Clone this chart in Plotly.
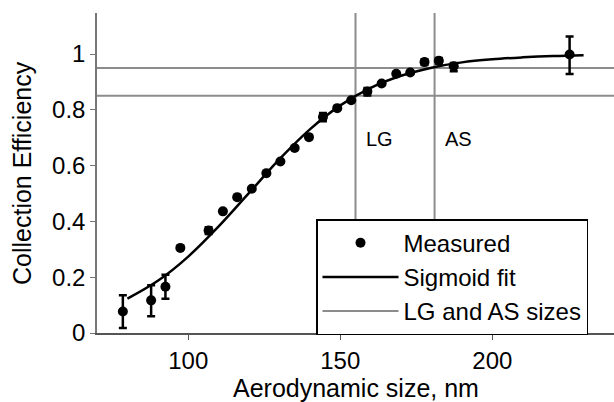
import plotly.graph_objects as go

# Measured data
size_nm = [78.5, 87.8, 92.5, 97.4, 106.7, 111.4, 116.1, 120.9, 125.7, 130.3, 135.0,
           139.7, 144.3, 149.0, 153.6, 158.9, 163.6, 168.4, 173.0, 177.7, 182.4, 187.3, 225.4]
efficiency = [0.077, 0.117, 0.166, 0.305, 0.367, 0.436, 0.487, 0.517, 0.573, 0.615, 0.663,
              0.702, 0.774, 0.806, 0.834, 0.866, 0.894, 0.929, 0.934, 0.971, 0.976, 0.956, 0.998]
err_plus = [0.058, 0.054, 0.043, 0.0, 0.012, 0.0, 0.0, 0.0, 0.0, 0.0, 0.0,
            0.0, 0.015, 0.0, 0.0, 0.012, 0.0, 0.0, 0.0, 0.01, 0.01, 0.012, 0.065]
err_minus = [0.059, 0.057, 0.043, 0.0, 0.012, 0.0, 0.0, 0.0, 0.0, 0.0, 0.0,
             0.0, 0.015, 0.0, 0.0, 0.015, 0.0, 0.0, 0.0, 0.01, 0.01, 0.018, 0.07]

# Sigmoid fit curve
fit_x = [80, 90, 100, 110, 120, 130, 140, 150, 160, 170, 180, 190, 200, 210, 220, 230]
fit_y = [0.123, 0.187, 0.274, 0.382, 0.502, 0.623, 0.730, 0.816, 0.879, 0.922, 0.951,
         0.970, 0.981, 0.988, 0.993, 0.996]

# LG and AS sizes
lg_as_sizes = [155, 181]
lg_as_eff = [0.85, 0.95]
lg_as_labels = ["LG", "AS"]

x_title = "Aerodynamic size, nm"
y_title = "Collection Efficiency"

x_range = [70, 240]
y_range = [0, 1.147]

fig = go.Figure()

ref_x, ref_y = [], []
for s in lg_as_sizes:
    ref_x += [s, s, None]
    ref_y += [y_range[0], y_range[1], None]
for e in lg_as_eff:
    ref_x += [x_range[0], x_range[1], None]
    ref_y += [e, e, None]
fig.add_trace(go.Scatter(
    x=ref_x, y=ref_y, mode="lines", name="LG and AS sizes",
    line=dict(color="#8c8c8c", width=2), legendrank=3))

fig.add_trace(go.Scatter(
    x=fit_x, y=fit_y, mode="lines", name="Sigmoid fit",
    line=dict(color="black", width=2.5, shape="spline"), legendrank=2))

fig.add_trace(go.Scatter(
    x=size_nm, y=efficiency, mode="markers", name="Measured",
    marker=dict(color="black", size=10),
    error_y=dict(type="data", array=err_plus, arrayminus=err_minus, symmetric=False,
                 color="black", thickness=2.5, width=4),
    legendrank=1))

for s, lab in zip(lg_as_sizes, lg_as_labels):
    fig.add_annotation(x=s, y=0.696, text=lab, showarrow=False, xanchor="left",
                       xshift=8, font=dict(size=20, color="black"))

# axis titles
fig.add_annotation(xref="paper", yref="paper", x=0.5, y=-0.172, text=x_title,
                   showarrow=False, xanchor="center", yanchor="middle",
                   font=dict(size=25, color="black"))
fig.add_annotation(xref="paper", yref="paper", x=-0.145, y=0.5, text=y_title,
                   showarrow=False, xanchor="center", yanchor="middle", textangle=-90,
                   font=dict(size=25, color="black"))

fig.update_layout(
    width=614, height=402,
    margin=dict(l=97, r=0, t=13, b=69),
    plot_bgcolor="white", paper_bgcolor="white",
    font=dict(family="Liberation Sans, Arial, sans-serif", color="black", size=25),
    legend=dict(x=0.4236, y=0.356, xanchor="left", yanchor="top",
                bgcolor="white", bordercolor="black", borderwidth=1.5,
                font=dict(size=24), tracegroupgap=0, itemwidth=76),
    xaxis=dict(range=x_range, tickvals=[100, 150, 200], showgrid=False, zeroline=False,
               showline=True, linecolor="#555", linewidth=1.5, ticks="outside",
               ticklen=5, tickcolor="#555", tickfont=dict(size=24), automargin=False),
    yaxis=dict(range=y_range, tickvals=[0, 0.2, 0.4, 0.6, 0.8, 1],
               ticktext=["0", "0.2", "0.4", "0.6", "0.8", "1"], showgrid=False,
               zeroline=False, showline=True, linecolor="#777", linewidth=1.5,
               ticks="outside", ticklen=5, tickcolor="#777", tickfont=dict(size=24),
               automargin=False),
)

fig.write_html("out.html", config={"displayModeBar": False},
               post_script="document.body.style.margin='0';document.body.style.padding='0';document.body.style.overflow='hidden';")
